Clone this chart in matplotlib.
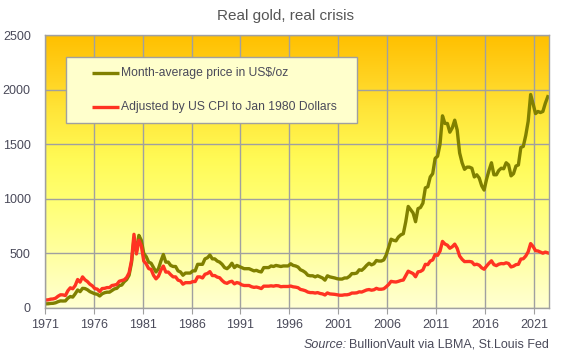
import numpy as np
import matplotlib
matplotlib.use("Agg")
import matplotlib.pyplot as plt
from matplotlib.colors import LinearSegmentedColormap
from matplotlib.patches import Rectangle
from matplotlib.lines import Line2D

# Quarterly values, 1971 Q1 .. 2022 Q2
start_year = 1971
nominal = [
    38, 39, 42, 43,        # 1971
    48, 58, 65, 64,        # 1972
    65, 90, 105, 100,      # 1973
    130, 165, 150, 180,    # 1974
    178, 167, 150, 140,    # 1975
    130, 126, 110, 130,    # 1976
    140, 145, 145, 160,    # 1977
    175, 180, 205, 210,    # 1978
    240, 260, 300, 415,    # 1979
    630, 520, 665, 620,    # 1980
    500, 470, 420, 410,    # 1981
    370, 330, 360, 430,    # 1982
    490, 420, 420, 390,    # 1983
    380, 380, 340, 330,    # 1984
    300, 320, 320, 320,    # 1985
    340, 340, 400, 400,    # 1986
    400, 450, 460, 485,    # 1987
    450, 450, 430, 420,    # 1988
    400, 370, 360, 380,    # 1989
    410, 370, 390, 380,    # 1990
    370, 360, 360, 360,    # 1991
    350, 340, 345, 335,    # 1992
    330, 370, 370, 370,    # 1993
    385, 380, 390, 385,    # 1994
    380, 385, 385, 385,    # 1995
    405, 390, 385, 375,    # 1996
    350, 340, 325, 300,    # 1997
    295, 295, 285, 295,    # 1998
    285, 275, 255, 295,    # 1999
    285, 280, 275, 268,    # 2000
    265, 265, 275, 275,    # 2001
    290, 315, 315, 320,    # 2002
    350, 345, 365, 390,    # 2003
    410, 395, 405, 435,    # 2004
    430, 430, 440, 485,    # 2005
    555, 630, 620, 615,    # 2006
    650, 670, 680, 790,    # 2007
    930, 900, 870, 790,    # 2008
    910, 920, 960, 1100,   # 2009
    1110, 1200, 1230, 1370,  # 2010
    1390, 1500, 1760, 1690,  # 2011
    1690, 1610, 1650, 1720,  # 2012
    1630, 1420, 1330, 1270,  # 2013
    1290, 1290, 1280, 1200,  # 2014
    1220, 1190, 1120, 1080,  # 2015
    1180, 1260, 1330, 1220,  # 2016
    1220, 1260, 1280, 1275,  # 2017
    1330, 1310, 1210, 1230,  # 2018
    1300, 1310, 1470, 1480,  # 2019
    1580, 1710, 1955, 1870,  # 2020
    1780, 1800, 1790, 1800,  # 2021
    1875, 1935,              # 2022
]
real_1980 = [
    73, 75, 81, 83,
    90, 108, 121, 120,
    114, 158, 185, 176,
    206, 261, 237, 285,
    258, 242, 218, 203,
    178, 173, 151, 178,
    180, 187, 187, 206,
    210, 216, 245, 251,
    258, 279, 322, 434,
    675, 495, 620, 570,
    430, 404, 361, 353,
    299, 267, 291, 347,
    384, 329, 329, 305,
    285, 285, 255, 248,
    218, 232, 232, 232,
    242, 242, 285, 285,
    275, 309, 316, 333,
    297, 297, 283, 277,
    252, 233, 226, 239,
    245, 221, 233, 227,
    212, 206, 206, 206,
    195, 189, 192, 186,
    178, 200, 200, 200,
    203, 200, 205, 203,
    195, 197, 197, 197,
    201, 194, 191, 186,
    170, 165, 158, 146,
    141, 141, 137, 141,
    133, 129, 119, 138,
    129, 127, 125, 121,
    117, 117, 121, 121,
    126, 137, 137, 139,
    148, 146, 155, 165,
    169, 163, 167, 180,
    172, 172, 176, 194,
    215, 244, 240, 238,
    244, 252, 256, 297,
    337, 326, 315, 286,
    331, 335, 349, 400,
    397, 430, 440, 490,
    482, 521, 610, 586,
    575, 547, 561, 585,
    546, 476, 446, 425,
    426, 426, 422, 396,
    401, 392, 368, 355,
    384, 410, 432, 397,
    388, 401, 407, 405,
    414, 407, 376, 383,
    397, 400, 448, 451,
    476, 515, 590, 563,
    525, 522, 512, 502,
    512, 505,
]
year_ticks = list(range(1971, 2022, 5))
y_ticks = [0, 500, 1000, 1500, 2000, 2500]
label_nominal = "Month-average price in US$/oz"
label_real = "Adjusted by US CPI to Jan 1980 Dollars"

plt.rcParams['font.family'] = ['Liberation Sans', 'DejaVu Sans']

W, H = 565, 356
fig = plt.figure(figsize=(W / 100, H / 100), dpi=100)
AX_L, AX_R, AX_T, AX_B = 44.6, 549.0, 35.0, 308.0
ax = fig.add_axes([AX_L / W, 1 - AX_B / H, (AX_R - AX_L) / W, (AX_B - AX_T) / H])


def ax_frac(px, py):
    return (px - AX_L) / (AX_R - AX_L), (AX_B - py) / (AX_B - AX_T)


x = start_year + 0.125 + np.arange(len(nominal)) / 4.0

# gradient background
cmap = LinearSegmentedColormap.from_list(
    "bg", [(0.0, "#FFFFD2"), (0.2, "#FFFFA0"), (0.4, "#FFFF72"),
           (0.55, "#FFFA55"), (0.72, "#FFE63A"), (0.85, "#FFD220"),
           (1.0, "#FFC000")])
grad = np.linspace(0, 1, 256).reshape(-1, 1)
ax.imshow(grad, extent=[0, 1, 0, 1], transform=ax.transAxes, origin="lower",
          aspect="auto", cmap=cmap, zorder=0)

OLIVE, RED = "#808000", "#FF3322"
LW = 2.4
ax.plot(x, nominal, color=OLIVE, lw=LW, zorder=3, solid_joinstyle="round")
ax.plot(x, real_1980, color=RED, lw=LW, zorder=4, solid_joinstyle="round")

ax.set_xlim(1971, 2022.5)
ax.set_ylim(0, 2500)
ax.set_xticks(year_ticks)
ax.set_yticks(y_ticks)
ax.grid(True, color="#A0A0A0", lw=1.0, zorder=1)
ax.set_axisbelow(False)
for s in ax.spines.values():
    s.set_color("#A0A0A0")
    s.set_linewidth(1.0)
    s.set_zorder(5)
ax.tick_params(axis="both", colors="#A0A0A0", labelcolor="#4A4A5A",
               labelsize=9, length=0, pad=4)
ax.tick_params(axis="x", length=4, direction="out")
ax.tick_params(axis="y", pad=10)

# legend box (drawn by hand for exact placement)
bx0, by0 = ax_frac(66, 123)
bx1, by1 = ax_frac(357, 57)
ax.add_patch(Rectangle((bx0, by0), bx1 - bx0, by1 - by0, transform=ax.transAxes,
                       facecolor="#FFFFCC", edgecolor="#A0A0A0", lw=1.0,
                       zorder=6, clip_on=False))
for (py, col, lab) in [(73, OLIVE, label_nominal), (107, RED, label_real)]:
    hx0, hy = ax_frac(92, py)
    hx1, _ = ax_frac(119, py)
    ax.add_line(Line2D([hx0, hx1], [hy, hy], transform=ax.transAxes, color=col,
                       lw=LW, zorder=7, solid_capstyle="butt"))
    tx, _ = ax_frac(121, py)
    ax.text(tx, hy, lab, transform=ax.transAxes, ha="left", va="center",
            fontsize=8.7, color="#4A4A5A", zorder=7)

fig.text(0.506, 0.955, "Real gold, real crisis", ha="center", va="center",
         fontsize=11, color="#555555")
src = fig.text(0.972, 0.032, "BullionVault via LBMA, St.Louis Fed", ha="right",
               va="center", fontsize=9, color="#4A4A5A")
fig.canvas.draw()
bb = src.get_window_extent(renderer=fig.canvas.get_renderer())
x0 = bb.x0 / fig.bbox.width
fig.text(x0 - 0.004, 0.032, "Source:", ha="right", va="center", fontsize=9,
         color="#4A4A5A", style="italic")

fig.savefig("out.png", dpi=100)
